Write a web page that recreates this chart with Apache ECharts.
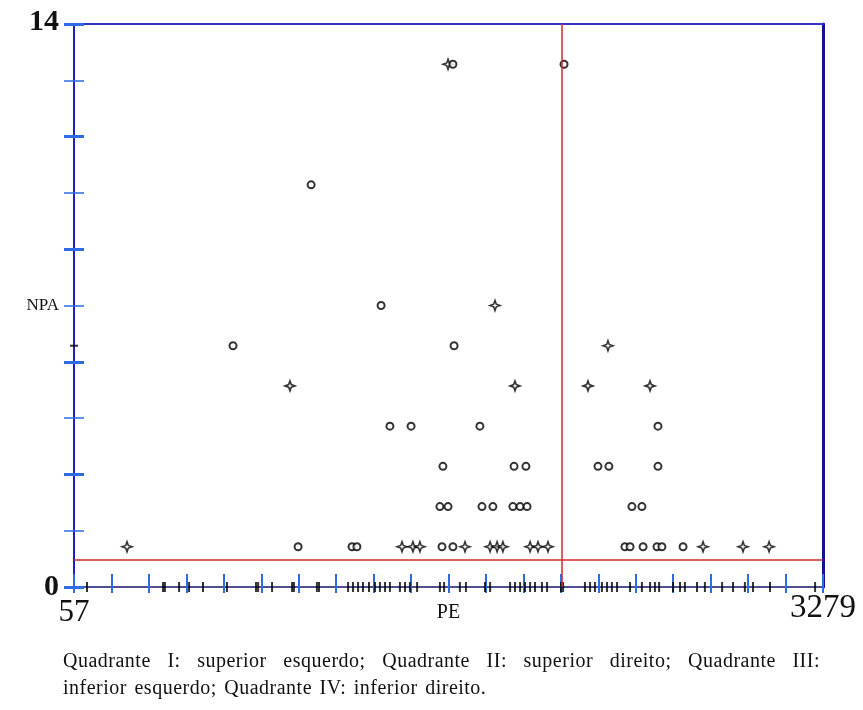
<!DOCTYPE html>
<html><head><meta charset="utf-8">
<script src="https://cdn.jsdelivr.net/npm/echarts@6/dist/echarts.min.js"></script>
<style>
html,body{margin:0;padding:0;background:#fff;}
#chart{position:absolute;left:0;top:0;width:863px;height:710px;}
#note{position:absolute;left:63px;top:647px;width:757px;font-family:"Liberation Serif","Times New Roman",serif;font-size:20px;letter-spacing:0.5px;word-spacing:2px;line-height:27px;color:#111;}
</style></head><body>
<div id="chart"></div>
<div id="note"><div style="text-align:justify;text-align-last:justify">Quadrante I: superior esquerdo; Quadrante II: superior direito; Quadrante III:</div><div>inferior esquerdo; Quadrante IV: inferior direito.</div></div>
<script>
// ---- data ----
const circlePE  = [1687, 2165, 1077, 1378, 741, 1692, 1416, 1507, 1803, 2569,
                   1644, 1950, 2001, 2311, 2358, 2569,
                   1631, 1666, 1812, 1859, 1945, 1976, 2006, 2457, 2500,
                   1021, 1253, 1274, 1640, 1687, 2427, 2449, 2505, 2565, 2586, 2677];
const circleNPA = [13, 13, 10, 7, 6, 6, 4, 4, 4, 4,
                   3, 3, 3, 3, 3, 3,
                   2, 2, 2, 2, 2, 2, 2, 2, 2,
                   1, 1, 1, 1, 1, 1, 1, 1, 1, 1, 1];
const starPE  = [1666, 1868, 2354, 986, 1954, 2268, 2535,
                 285, 1468, 1515, 1545, 1739, 1847, 1877, 1902, 2019, 2053, 2096, 2763, 2935, 3047];
const starNPA = [13, 7, 6, 5, 5, 5, 5,
                 1, 1, 1, 1, 1, 1, 1, 1, 1, 1, 1, 1, 1, 1];
// PE values with NPA = 0 (rug on the x axis)
const rugPE = [113, 440, 448, 509, 552, 612, 715, 840, 849, 909, 995, 1003, 1102, 1111,
               1236, 1257, 1279, 1300, 1326, 1352, 1373, 1395, 1416, 1459, 1481, 1502, 1533,
               1631, 1649, 1717, 1743, 1825, 1847, 1933, 1954, 1976, 1997, 2019, 2040, 2070, 2092,
               2152, 2161, 2255, 2277, 2298, 2328, 2350, 2371, 2393, 2449, 2500, 2535, 2556, 2574,
               2634, 2664, 2685, 2737, 2771, 2845, 2892, 2943, 2978, 3051, 3245];
const yRugNPA = [6];
const refPE = 2155;     // vertical red line
const refNPA = 0.67;    // horizontal red line
const xMin = 57, xMax = 3279, yMin = 0, yMax = 14;
const xLabelPos = [0, 10, 20], xLabelText = ['57', 'PE', '3279'];
const yLabelPos = [0, 5, 10],  yLabelText = ['0', 'NPA', '14'];

const SERIF = '"Liberation Serif","Times New Roman",serif';
const tickBlue = '#2f6be2';
const STAR = 'path://M0,-10 L2.6,-2.6 L10,0 L2.6,2.6 L0,10 L-2.6,2.6 L-10,0 L-2.6,-2.6 Z';

function pairs(xs, ys) { return xs.map((x, i) => [x, ys[i]]); }

const chart = echarts.init(document.getElementById('chart'), null, {renderer: 'canvas'});
const hidden = {axisLine: {show: false}, axisTick: {show: false}, axisLabel: {show: false}, splitLine: {show: false}};

function tickAxisX(inside, len, width, labels) {
  return Object.assign({}, hidden, {
    type: 'value', min: 0, max: 20, interval: 1, position: 'bottom',
    axisTick: {show: true, inside: inside, length: len, lineStyle: {color: tickBlue, width: width}},
    axisLabel: labels ? {
      show: true, margin: 8, showMinLabel: true, showMaxLabel: true, hideOverlap: false,
      formatter: v => { const i = xLabelPos.indexOf(v); return i < 0 ? '' : '{b' + i + '|' + xLabelText[i] + '}'; },
      rich: {
        b0: {fontFamily: SERIF, fontSize: 31, color: '#111', lineHeight: 36},
        b1: {fontFamily: SERIF, fontSize: 20, color: '#111', lineHeight: 36},
        b2: {fontFamily: SERIF, fontSize: 33, color: '#111', lineHeight: 26}
      }
    } : {show: false}
  });
}
function tickAxisY(inside, len, width, interval, labels) {
  return Object.assign({}, hidden, {
    type: 'value', min: 0, max: 10, interval: interval, position: 'left',
    axisTick: {show: true, inside: inside, length: len, lineStyle: {color: tickBlue, width: width}},
    axisLabel: labels ? {
      show: true, margin: 15, showMinLabel: true, showMaxLabel: true, hideOverlap: false,
      formatter: v => { const i = yLabelPos.indexOf(v); return i < 0 ? '' : '{a' + i + '|' + yLabelText[i] + '}'; },
      rich: {
        a0: {fontFamily: SERIF, fontSize: 30, fontWeight: 'bold', color: '#111'},
        a1: {fontFamily: SERIF, fontSize: 17, color: '#111'},
        a2: {fontFamily: SERIF, fontSize: 30, fontWeight: 'bold', color: '#111', padding: [0, 0, 4, 0]}
      }
    } : {show: false}
  });
}

const option = {
  backgroundColor: '#fff',
  animation: false,
  grid: {left: 74, right: 40, top: 24, bottom: 123, containLabel: false},
  xAxis: [
    Object.assign({}, hidden, {type: 'value', min: xMin, max: xMax, position: 'bottom',
      axisLine: {show: true, onZero: false, lineStyle: {color: '#16166e', width: 1.5}}}),
    tickAxisX(true, 13, 2, true),
    tickAxisX(false, 6, 2, false),
    Object.assign({}, hidden, {type: 'value', min: 0, max: 1, position: 'top',
      axisLine: {show: true, onZero: false, lineStyle: {color: '#3434c8', width: 2}}})
  ],
  yAxis: [
    Object.assign({}, hidden, {type: 'value', min: yMin, max: yMax, position: 'left',
      axisLine: {show: true, onZero: false, lineStyle: {color: '#1e1ed2', width: 2}}}),
    tickAxisY(true, 10, 1.5, 1, true),
    tickAxisY(false, 10, 1.5, 1, false),
    tickAxisY(true, 10, 3, 2, false),
    tickAxisY(false, 10, 3, 2, false),
    Object.assign({}, hidden, {type: 'value', min: 0, max: 1, position: 'right',
      axisLine: {show: true, onZero: false, lineStyle: {color: '#12129e', width: 3}}})
  ],
  series: [
    {
      type: 'scatter', xAxisIndex: 0, yAxisIndex: 0, silent: true, z: 3,
      symbol: 'rect', symbolSize: [2, 10],
      itemStyle: {color: '#000'},
      data: rugPE.map(x => [x, 0])
    },
    {
      type: 'scatter', xAxisIndex: 0, yAxisIndex: 0, silent: true, z: 3,
      symbol: 'rect', symbolSize: [8, 2],
      itemStyle: {color: '#000'},
      data: yRugNPA.map(y => [xMin, y])
    },
    {
      type: 'scatter', xAxisIndex: 0, yAxisIndex: 0, silent: true, z: 4,
      symbol: STAR, symbolSize: 10,
      itemStyle: {color: '#fff', borderColor: '#000', borderWidth: 1.6},
      data: pairs(starPE, starNPA)
    },
    {
      type: 'scatter', xAxisIndex: 0, yAxisIndex: 0, silent: true, z: 4,
      symbol: 'circle', symbolSize: 7,
      itemStyle: {color: '#fff', borderColor: '#000', borderWidth: 2},
      data: pairs(circlePE, circleNPA),
      markLine: {
        silent: true, symbol: 'none', animation: false,
        label: {show: false},
        lineStyle: {color: '#d42a2a', width: 1.5, type: 'solid'},
        data: [{xAxis: refPE}, {yAxis: refNPA}]
      }
    }
  ]
};
chart.setOption(option);
</script>
</body></html>
